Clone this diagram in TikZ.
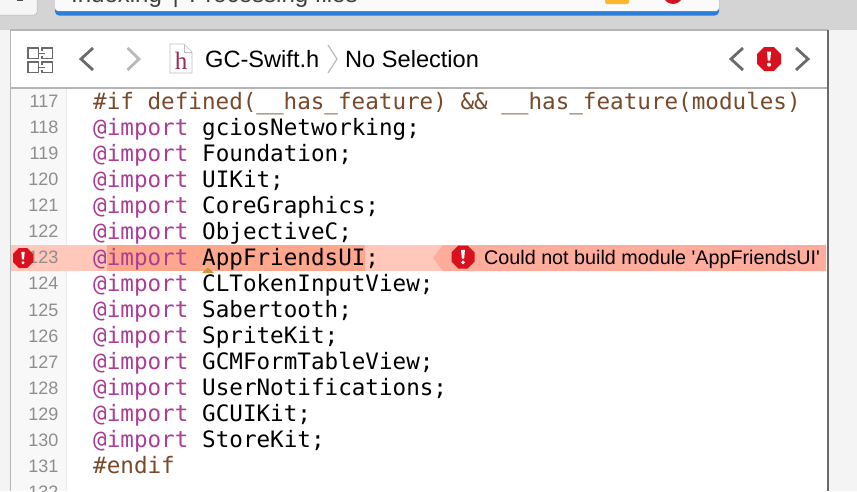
\documentclass[tikz,border=0pt]{standalone}
\usepackage{fontspec}
\setmainfont{Liberation Sans}
\setmonofont{DejaVu Sans Mono}
\newfontfamily\hfont{Liberation Serif}
\definecolor{barGray}{HTML}{D4D4D4}
\definecolor{ruleGray}{HTML}{B4B4B4}
\definecolor{sideGray}{HTML}{F4F4F4}
\definecolor{gutterGray}{HTML}{F8F8F8}
\definecolor{numGray}{HTML}{8E8E8E}
\definecolor{iconGray}{HTML}{6A6A6A}
\definecolor{iconLight}{HTML}{B9B9B9}
\definecolor{keyPurple}{HTML}{AA3D96}
\definecolor{prepBrown}{HTML}{78492A}
\definecolor{lineDark}{HTML}{FFA78C}
\definecolor{lineLight}{HTML}{FFC8BA}
\definecolor{msgPink}{HTML}{FFAC9C}
\definecolor{errRed}{HTML}{D9111E}
\definecolor{progBlue}{HTML}{2B7FDB}
\definecolor{warnYellow}{HTML}{FBB82E}
\definecolor{caretTan}{HTML}{C8963C}
\definecolor{fileRed}{HTML}{9E2A4E}
\tikzset{
  codetext/.style={anchor=base west,inner sep=0pt,font=\ttfamily\fontsize{22.6}{26}\selectfont},
  numtext/.style={anchor=base east,inner sep=0pt,text=numGray,font=\fontsize{18}{20}\selectfont},
  headtext/.style={anchor=base west,inner sep=0pt,font=\fontsize{23.6}{26}\selectfont},
  chevron/.style={line width=2.8pt,iconGray},
  errsign/.style={fill=errRed,draw=none},
}
% red stop sign with its mark, centred at #1
\newcommand{\stopsign}[2]{%
  \fill[errsign,shift={(#1)},scale=#2] (-.41,-1)--(.41,-1)--(1,-.41)--(1,.41)--(.41,1)--(-.41,1)--(-1,.41)--(-1,-.41)--cycle;
  \fill[white,shift={(#1)},scale=#2] (-.17,-.62)--(.17,-.62)--(.1,.14)--(-.1,.14)--cycle;
  \fill[white,shift={(#1)},scale=#2] (0,.47) circle (.17);
}
\begin{document}
\begin{tikzpicture}[x=1pt,y=-1pt]
\useasboundingbox (0,0) rectangle (857,491);
\begin{scope}
\clip (0,0) rectangle (857,491);

% window back
\fill[barGray] (0,0) rectangle (857,30);
\fill[sideGray] (0,30) rectangle (857,491);

% top bar
\fill[rounded corners=3pt,fill=white!93!gray,draw=ruleGray,line width=.5pt] (-8,-10) rectangle (37,15);
\fill[black!70] (17,0) rectangle (23,1);
\fill[progBlue,rounded corners=4pt] (55,-10) rectangle (719,15.5);
\fill[white!96!gray,rounded corners=3pt] (55,-12) rectangle (719,11);
\node[anchor=base west,inner sep=0pt,text=black!75,font=\fontsize{24}{26}\selectfont] (status) at (71,2.5) {Indexing \,|\, Processing files};
\fill[warnYellow,rounded corners=1.5pt] (605,-6) rectangle (629,4);
\fill[errRed] (673,-6) circle (10);

% editor pane
\fill[white] (10,30) rectangle (828,491);
\draw[ruleGray,line width=1.2pt] (10,30)--(828,30);
\draw[ruleGray,line width=1.2pt] (10,88)--(828,88);
\draw[ruleGray,line width=1.4pt] (10.5,30)--(10.5,491);
\draw[iconGray,line width=1.2pt] (828,30)--(828,491);
\fill[gutterGray] (11,89) rectangle (66,491);
\draw[black!8] (66.5,89)--(66.5,491);

% grid icon
\foreach \gx/\gy in {28/48,42/48,28/62,42/62}{
  \draw[iconGray,line width=1.3pt] (\gx,\gy) rectangle ++(10.5,10.5);
}
\foreach \gy in {48,62}{
  \draw[white,line width=1.6pt] (42,\gy+3)--(42,\gy+7.5);
  \draw[iconGray,line width=1.3pt] (38.5,\gy+5.2)--(45,\gy+5.2);
}

% back, forward
\draw[chevron] (93,48)--(81,59)--(93,70);
\draw[chevron,iconLight] (127.5,48)--(139,59)--(127.5,70);

% file icon
\draw[black!25,fill=white,line width=.7pt] (170,44)--(184,44)--(192,52)--(192,73)--(170,73)--cycle;
\draw[black!25,line width=.7pt] (184,44)--(184,52)--(192,52);
\node[anchor=base,inner sep=0pt,text=fileRed,font=\hfont\fontsize{25}{25}\selectfont] (fileh) at (181,69) {h};

% path bar
\node[headtext] (fname) at (205,67) {GC-Swift.h};
\draw[iconLight,line width=1.2pt] (328,45)--(337,59)--(328,73);
\node[headtext] (nosel) at (345,67) {No Selection};

% issue stepper
\draw[chevron] (743,48)--(731,59)--(743,70);
\stopsign{769,59}{12}
\draw[chevron] (796,48)--(808,59)--(796,70);

% highlighted line
\fill[lineLight] (11,245) rectangle (826,271);
\fill[lineDark] (107,245) rectangle (365,271);
\fill[msgPink] (826,245)--(443,245)--(433,258)--(443,271)--(826,271)--cycle;

% line numbers
\foreach \n [count=\i from 0] in {117,...,132}{
  \node[numtext] (num\n) at (58.5,{107.5+26.07*\i}) {\n};
}

% code
\node[codetext,text=prepBrown] (code117) at (93,109) {\#if defined(\_\_has\_feature) \&\& \_\_has\_feature(modules)};
\foreach \n/\modname [count=\i from 1] in {118/gciosNetworking,119/Foundation,120/UIKit,121/CoreGraphics,122/ObjectiveC,123/AppFriendsUI,124/CLTokenInputView,125/Sabertooth,126/SpriteKit,127/GCMFormTableView,128/UserNotifications,129/GCUIKit,130/StoreKit}{
  \node[codetext,text=keyPurple] (kw\n) at (93,{109+26.07*\i}) {@import};
  \node[codetext] (code\n) at (202,{109+26.07*\i}) {\modname;};
}
\node[codetext,text=prepBrown] (code131) at (93,{109+26.07*14}) {\#endif};

% caret under AppFriendsUI
\fill[caretTan] (202,273)--(208,267.5)--(214,273)--cycle;

% error marks
\stopsign{23,258}{10}
\stopsign{463,257}{11.5}
\node[anchor=base west,inner sep=0pt,font=\fontsize{19.75}{22}\selectfont] (errmsg) at (484,264.5) {Could not build module \textquotesingle AppFriendsUI\textquotesingle};
\end{scope}
\end{tikzpicture}
\end{document}
